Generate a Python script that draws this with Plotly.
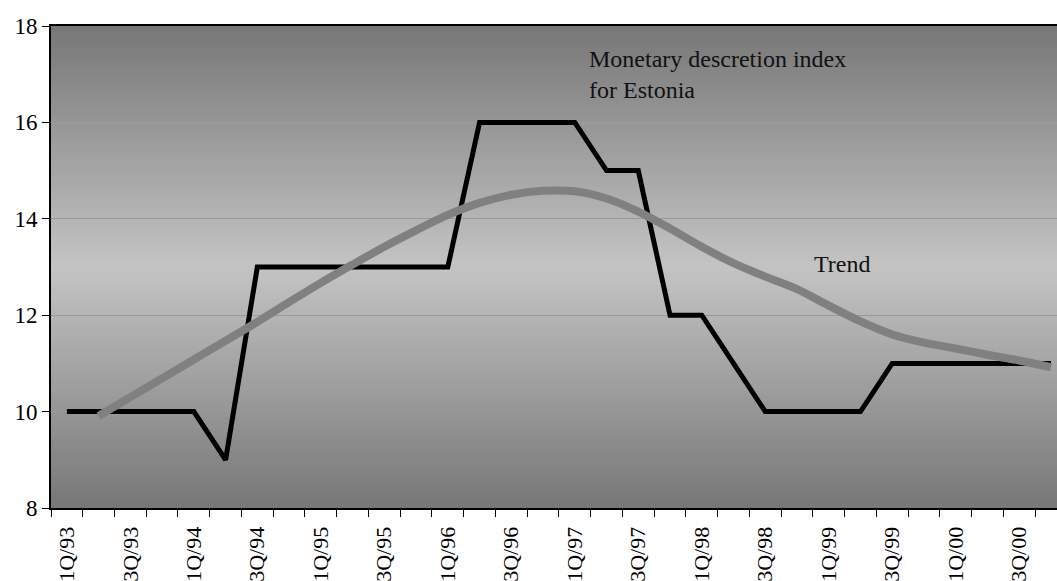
import plotly.graph_objects as go

quarters = [f"{q}Q/{y:02d}" for y in [93, 94, 95, 96, 97, 98, 99, 0] for q in [1, 2, 3, 4]]
index_values = [10, 10, 10, 10, 10, 9, 13, 13, 13, 13, 13, 13, 13, 16, 16, 16,
                16, 15, 15, 12, 12, 11, 10, 10, 10, 10, 11, 11, 11, 11, 11, 11]
trend_values = [9.91, 10.30, 10.69, 11.08, 11.47, 11.86, 12.27, 12.67, 13.05,
                13.42, 13.76, 14.08, 14.33, 14.50, 14.58, 14.57, 14.42, 14.15,
                13.80, 13.42, 13.08, 12.80, 12.54, 12.20, 11.87, 11.60, 11.43,
                11.31, 11.18, 11.06, 10.92]
tick_labels = quarters[::2]

FONT = "Liberation Serif"
xi = list(range(len(quarters)))

fig = go.Figure()
fig.add_trace(go.Scatter(x=xi, y=index_values, mode="lines",
                         line=dict(color="black", width=5), hoverinfo="skip"))
fig.add_trace(go.Scatter(x=xi[1:], y=trend_values, mode="lines",
                         line=dict(color="#808080", width=8, shape="spline", smoothing=0.8),
                         hoverinfo="skip"))

# gradient background: dark at top and bottom, light in the middle
shapes = []
n = 90
def shade(t):
    d = abs(t - 0.5) * 2
    v = int(round(0xc4 - (0xc4 - 0x77) * d))
    return f"rgb({v},{v},{v})"
for k in range(n):
    y0 = k / n
    y1 = (k + 1) / n
    shapes.append(dict(type="rect", xref="paper", yref="paper", x0=0, x1=1, y0=y0, y1=y1 + 0.002,
                       fillcolor=shade((k + 0.5) / n), line=dict(width=0), layer="below"))

fig.update_layout(
    width=1057, height=581,
    margin=dict(l=51, r=0, t=26, b=73, autoexpand=False),
    paper_bgcolor="white", plot_bgcolor="#c4c4c4",
    showlegend=False,
    shapes=shapes,
    font=dict(family=FONT, size=22, color="black"),
    annotations=[
        dict(x=16.37, y=16.99, xref="x", yref="y", text="Monetary descretion index<br>for Estonia",
             showarrow=False, xanchor="left", yanchor="middle", align="left",
             font=dict(family=FONT, size=24, color="#111")),
        dict(x=23.47, y=13.06, xref="x", yref="y", text="Trend", showarrow=False,
             xanchor="left", yanchor="middle", font=dict(family=FONT, size=24, color="#111")),
    ],
)
fig.update_xaxes(
    range=[-0.5, 31.19], tickmode="array", tickvals=xi[::2], ticktext=tick_labels,
    tickangle=-90, ticks="", showgrid=False, zeroline=False, automargin=False,
    showline=True, linecolor="black", linewidth=2, mirror=True,
    tickfont=dict(family=FONT, size=22, color="black"),
    minor=dict(ticks="outside", ticklen=7, tickcolor="black", tickwidth=1,
               tickmode="array", tickvals=[k - 0.5 for k in range(len(quarters) + 1)], showgrid=False),
    ticklabelstandoff=8,
)
fig.update_yaxes(
    range=[8, 18], tickmode="linear", tick0=8, dtick=2, automargin=False,
    ticks="outside", ticklen=7, tickcolor="black", tickwidth=1,
    showline=True, linecolor="black", linewidth=2, mirror=False,
    showgrid=True, gridcolor="#9a9a9a", gridwidth=1, zeroline=False,
    tickfont=dict(family=FONT, size=23, color="black"),
)

post = ("document.body.style.margin='0';document.body.style.overflow='hidden';"
        "var gd=document.getElementById('{plot_id}');"
        "Plotly.relayout(gd,{width:1057,height:581});")
fig.write_html("out.html", post_script=post, config={"displayModeBar": False})
